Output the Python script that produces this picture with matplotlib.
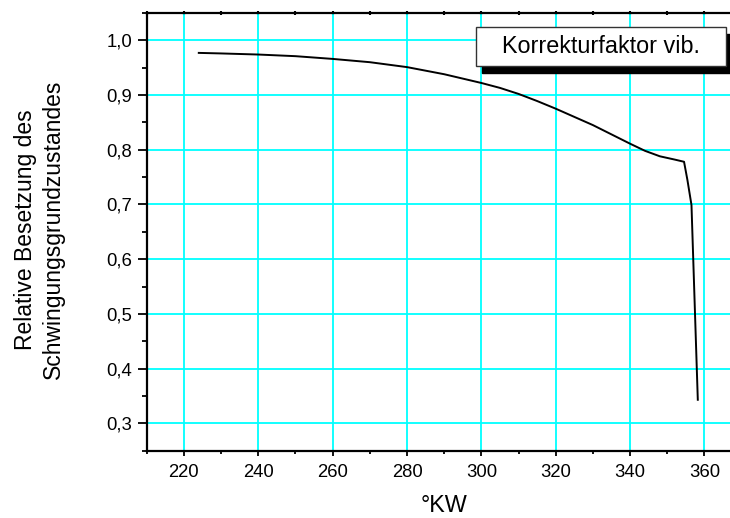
import matplotlib
matplotlib.use("Agg")
import matplotlib.pyplot as plt
from matplotlib.patches import Rectangle
from matplotlib.ticker import MultipleLocator, FuncFormatter

plt.rcParams['font.family'] = ['Liberation Sans', 'DejaVu Sans']

# data
crank_angle = [224, 230, 240, 250, 260, 270, 280, 290, 300, 305, 310, 315, 320,
               325, 330, 335, 340, 344, 348, 352, 354.5, 355.4, 356.5, 358.2]
korrektur = [0.977, 0.976, 0.974, 0.971, 0.966, 0.960, 0.951, 0.938, 0.922, 0.913,
             0.902, 0.889, 0.875, 0.860, 0.845, 0.828, 0.811, 0.798, 0.788, 0.782,
             0.778, 0.745, 0.699, 0.343]
legend_label = "Korrekturfaktor vib."
x_label = "°KW"
y_label = "Relative Besetzung des\nSchwingungsgrundzustandes"

fig = plt.figure(figsize=(7.30, 5.18), dpi=100)
ax = fig.add_axes([0.201, 0.130, 0.815, 0.845])

ax.plot(crank_angle, korrektur, color='black', lw=1.4, zorder=3)

ax.set_xlim(210, 370)
ax.set_ylim(0.25, 1.05)
ax.xaxis.set_major_locator(MultipleLocator(20))
ax.xaxis.set_minor_locator(MultipleLocator(10))
ax.yaxis.set_major_locator(MultipleLocator(0.1))
ax.yaxis.set_minor_locator(MultipleLocator(0.05))
ax.yaxis.set_major_formatter(FuncFormatter(lambda v, p: f"{v:.1f}".replace('.', ',')))
ax.xaxis.set_major_formatter(FuncFormatter(lambda v, p: f"{v:.0f}"))

ax.grid(True, which='major', color='#00FFFF', lw=1.3, zorder=0)
ax.set_axisbelow(True)

for s in ['left', 'bottom', 'top']:
    ax.spines[s].set_linewidth(1.6)
    ax.spines[s].set_color('black')
ax.spines['right'].set_visible(False)

ax.tick_params(axis='x', which='major', direction='out', length=3.8, width=1.3,
               labelsize=13.3, pad=6, top=False)
ax.tick_params(axis='x', which='minor', direction='out', length=2.4, width=1.3, top=False)
ax.tick_params(axis='y', which='major', direction='out', length=6.5, width=1.3,
               labelsize=13.3, pad=4, right=False)
ax.tick_params(axis='y', which='minor', direction='out', length=3.6, width=1.3, right=False)

# small top ticks
sec = ax.secondary_xaxis('top')
sec.xaxis.set_major_locator(MultipleLocator(10))
sec.tick_params(direction='inout', length=2.5, width=1.5, labeltop=False)
sec.spines['top'].set_visible(False)

ax.set_xlabel(x_label, fontsize=16.8, labelpad=9)
fig.text(0.0545, 0.557, y_label, rotation=90, ha='center', va='center',
         multialignment='center', fontsize=16.5, linespacing=1.28)

# legend box with shadow
fig.add_artist(Rectangle((0.660, 0.859), 0.3425, 0.0753, transform=fig.transFigure,
                         facecolor='black', edgecolor='black', zorder=5))
fig.add_artist(Rectangle((0.652, 0.8726), 0.3425, 0.0753, transform=fig.transFigure,
                         facecolor='white', edgecolor='#333333', lw=1.0, zorder=6))
fig.text(0.823, 0.910, legend_label, ha='center', va='center', fontsize=16.8, zorder=7)

fig.savefig("out.png", dpi=100)
